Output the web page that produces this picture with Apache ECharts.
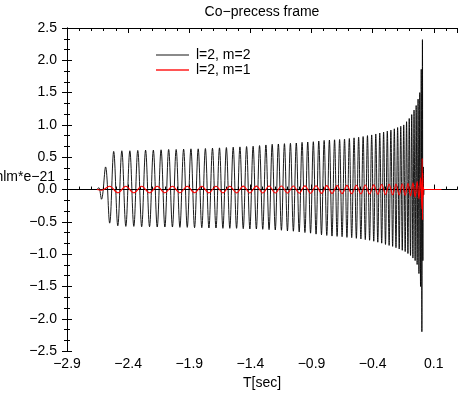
<!DOCTYPE html>
<html>
<head>
<meta charset="utf-8">
<script src="https://cdn.jsdelivr.net/npm/echarts@6/dist/echarts.min.js"></script>
<style>
  html, body { margin: 0; padding: 0; background: #fff; }
  #chart { width: 459px; height: 395px; }
</style>
</head>
<body>
<div id="chart"></div>
<script>
// turning points of the l=2, m=2 mode (T[sec], hlm*e-21)
const h22Time = [
  -2.655, -2.640, -2.618, -2.5845, -2.5509, -2.518,
  -2.4845, -2.4515, -2.4188, -2.3859, -2.3534, -2.3212, -2.2891, -2.2572, -2.2249, -2.1937,
  -2.1621, -2.1305, -2.0994, -2.0685, -2.0377, -2.0071, -1.9765, -1.9461, -1.9163, -1.8862,
  -1.8566, -1.8268, -1.7974, -1.7680, -1.7391, -1.7101, -1.6813, -1.6528, -1.6247, -1.5963,
  -1.5683, -1.5406, -1.5130, -1.4855, -1.4584, -1.4311, -1.4043, -1.3777, -1.3511, -1.3250,
  -1.2988, -1.2730, -1.2472, -1.2217, -1.1964, -1.1712, -1.1462, -1.1215, -1.0969, -1.0726,
  -1.0484, -1.0245, -1.0009, -0.9774, -0.9539, -0.9309, -0.9079, -0.8852, -0.8628, -0.8406,
  -0.8184, -0.7967, -0.7751, -0.7537, -0.7325, -0.7115, -0.6908, -0.6703, -0.6500, -0.6300,
  -0.6102, -0.5906, -0.5712, -0.5521, -0.5332, -0.5146, -0.4961, -0.4779, -0.4601, -0.4424,
  -0.4250, -0.4078, -0.3909, -0.3743, -0.3579, -0.3418, -0.3259, -0.3103, -0.2950, -0.2800,
  -0.2652, -0.2508, -0.2365, -0.2227, -0.2091, -0.1957, -0.1827, -0.1701, -0.1577, -0.1456,
  -0.1339, -0.1225, -0.1114, -0.1007, -0.0903, -0.0803, -0.0707, -0.0614, -0.0525, -0.0440,
  -0.0360, -0.0283, -0.0212, -0.0144, -0.0082, -0.0025, 0.0027, 0.0073,
  0.0110, 0.0145, 0.0180, 0.0215, 0.030
];
const h22Value = [
  0, 0.03, -0.15, 0.35, -0.52, 0.59,
  -0.56, 0.60, -0.57, 0.60, -0.57, 0.605, -0.575, 0.61, -0.575, 0.61,
  -0.58, 0.615, -0.58, 0.62, -0.58, 0.62, -0.585, 0.625, -0.585, 0.63,
  -0.59, 0.63, -0.59, 0.635, -0.595, 0.64, -0.595, 0.645, -0.60, 0.65,
  -0.60, 0.655, -0.60, 0.66, -0.605, 0.665, -0.61, 0.67, -0.61, 0.68,
  -0.615, 0.69, -0.62, 0.70, -0.625, 0.705, -0.63, 0.71, -0.64, 0.715,
  -0.645, 0.72, -0.655, 0.73, -0.665, 0.735, -0.675, 0.74, -0.69, 0.75,
  -0.70, 0.76, -0.71, 0.765, -0.72, 0.77, -0.725, 0.775, -0.73, 0.78,
  -0.74, 0.79, -0.745, 0.80, -0.755, 0.81, -0.765, 0.82, -0.775, 0.835,
  -0.785, 0.845, -0.80, 0.86, -0.815, 0.875, -0.83, 0.89, -0.85, 0.905,
  -0.865, 0.92, -0.88, 0.94, -0.90, 0.96, -0.92, 0.98, -0.94, 1.00,
  -0.96, 1.05, -0.99, 1.10, -1.02, 1.16, -1.06, 1.23, -1.10, 1.30,
  -1.16, 1.40, -1.30, 1.50, -1.50, 1.86, -2.20, 2.32,
  -1.10, 0.35, -0.08, 0, 0
];

// turning points of the l=2, m=1 mode
const h21Time = [
  -2.655, -2.6183, -2.5509, -2.4845, -2.4188, -2.3534, -2.2891, -2.2249, -2.1621, -2.0994, -2.0377,
  -1.9765, -1.9163, -1.8566, -1.7974, -1.7391, -1.6813, -1.6247, -1.5683, -1.5130, -1.4584,
  -1.4043, -1.3511, -1.2988, -1.2472, -1.1964, -1.1462, -1.0969, -1.0484, -1.0009, -0.9539,
  -0.9079, -0.8628, -0.8184, -0.7751, -0.7325, -0.6908, -0.6500, -0.6102, -0.5712, -0.5332,
  -0.4961, -0.4601, -0.4250, -0.3909, -0.3579, -0.3259, -0.2950, -0.2652, -0.2365, -0.2091,
  -0.1827, -0.1577, -0.1339, -0.1114, -0.0903, -0.0707, -0.0525, -0.0360, -0.0212, -0.0082,
  0.0027, 0.0050, 0.0075, 0.0100, 0.0125, 0.0150, 0.0180, 0.163
];
const h21Value = [
  0, -0.01, 0.05, -0.05, 0.05, -0.05, 0.05, -0.05, 0.05, -0.05, 0.05,
  -0.05, 0.05, -0.05, 0.051, -0.051, 0.052, -0.052, 0.052, -0.052, 0.053,
  -0.053, 0.053, -0.053, 0.054, -0.054, 0.055, -0.055, 0.055, -0.055, 0.057,
  -0.057, 0.059, -0.059, 0.061, -0.061, 0.063, -0.063, 0.065, -0.065, 0.067,
  -0.067, 0.07, -0.07, 0.073, -0.073, 0.077, -0.077, 0.081, -0.081, 0.085,
  -0.085, 0.09, -0.09, 0.095, -0.10, 0.105, -0.115, 0.125, -0.145, 0.18,
  -0.30, 0.48, -0.47, 0.25, -0.12, 0.04, 0, 0
];

const seriesNames = ['l=2, m=2', 'l=2, m=1'];
const legendColors = ['#8a8a8a', '#ff5555'];
const xRange = [-2.9, 0.29];   // T[sec]
const yRange = [-2.5, 2.5];
const xStep = 0.5;
const yStep = 0.5;

const FONT = 'Liberation Sans, Arial, Helvetica, sans-serif';
const minus = s => s.replace('-', '\u2212');

// x is drawn as offset from xRange[0] so the ticks land on -2.9, -2.4, ...
const toX = t => t - xRange[0];
const pairs = (ts, vs) => ts.map((t, i) => [toX(t), vs[i]]);

const chart = echarts.init(document.getElementById('chart'), null, { renderer: 'canvas' });

const xBase = {
  type: 'value',
  min: 0,
  max: toX(xRange[1]),
  axisLine: { show: true, lineStyle: { color: '#000', width: 1 } },
  splitLine: { show: false },
  axisLabel: { show: false }
};

const yBase = {
  type: 'value',
  min: yRange[0],
  max: yRange[1],
  interval: yStep,
  axisLine: { show: true, lineStyle: { color: '#000', width: 1 } },
  axisTick: { show: true, inside: true, length: 5, lineStyle: { color: '#000' } },
  minorTick: { show: true, splitNumber: 3, length: 3, lineStyle: { color: '#000' } },
  splitLine: { show: false },
  minorSplitLine: { show: false }
};

chart.setOption({
  animation: false,
  backgroundColor: '#fff',
  grid: { left: 67, right: 2, top: 28, bottom: 41, containLabel: false },
  graphic: [
    {
      type: 'text', x: 262, y: 12,
      style: { text: 'Co\u2212precess frame', font: '14px ' + FONT, fill: '#000',
               textAlign: 'center', textVerticalAlign: 'middle' }
    },
    {
      type: 'text', x: 55, y: 177,
      style: { text: 'hlm*e\u221221', font: '14px ' + FONT, fill: '#000',
               textAlign: 'right', textVerticalAlign: 'middle' }
    }
  ],
  legend: {
    orient: 'vertical',
    left: 151,
    top: 43,
    icon: 'rect',
    itemWidth: 33,
    itemHeight: 2,
    itemGap: 1,
    textStyle: { fontFamily: FONT, fontSize: 14, color: '#000', padding: [0, 0, 0, 2] },
    data: seriesNames.map((name, i) => ({ name, itemStyle: { color: legendColors[i] } }))
  },
  xAxis: [
    Object.assign({}, xBase, {
      position: 'bottom',
      interval: xStep,
      axisTick: { show: true, inside: true, length: 5, lineStyle: { color: '#000' } },
      axisLabel: {
        show: true, margin: 6, color: '#000', fontFamily: FONT, fontSize: 14,
        showMaxLabel: false,
        formatter: v => minus((v + xRange[0]).toFixed(1))
      },
      name: 'T[sec]',
      nameLocation: 'middle',
      nameGap: 23,
      nameTextStyle: { color: '#000', fontFamily: FONT, fontSize: 14 }
    }),
    Object.assign({}, xBase, {
      position: 'bottom',
      interval: 0.1,
      axisTick: { show: true, inside: true, length: 3, lineStyle: { color: '#000' } }
    }),
    Object.assign({}, xBase, {
      position: 'top',
      interval: xStep,
      axisTick: { show: true, inside: true, length: 5, lineStyle: { color: '#000' } }
    }),
    Object.assign({}, xBase, {
      position: 'top',
      interval: 0.1,
      axisTick: { show: true, inside: true, length: 3, lineStyle: { color: '#000' } }
    })
  ],
  yAxis: [
    Object.assign({}, yBase, {
      position: 'left',
      axisLabel: {
        show: true, margin: 10, color: '#000', fontFamily: FONT, fontSize: 14,
        formatter: v => minus(v.toFixed(1))
      }
    }),
    Object.assign({}, yBase, {
      position: 'right',
      axisLabel: { show: false }
    })
  ],
  series: [
    {
      name: seriesNames[0],
      type: 'line',
      xAxisIndex: 0,
      yAxisIndex: 0,
      data: pairs(h22Time, h22Value),
      symbol: 'none',
      smooth: 0.36,
      color: '#000',
      lineStyle: { color: '#000', width: 0.9 },
      z: 2
    },
    {
      name: seriesNames[1],
      type: 'line',
      xAxisIndex: 0,
      yAxisIndex: 0,
      data: pairs(h21Time, h21Value),
      symbol: 'none',
      smooth: 0.36,
      color: '#ff0000',
      lineStyle: { color: '#ff0000', width: 1.1 },
      z: 3
    }
  ]
});
</script>
</body>
</html>
